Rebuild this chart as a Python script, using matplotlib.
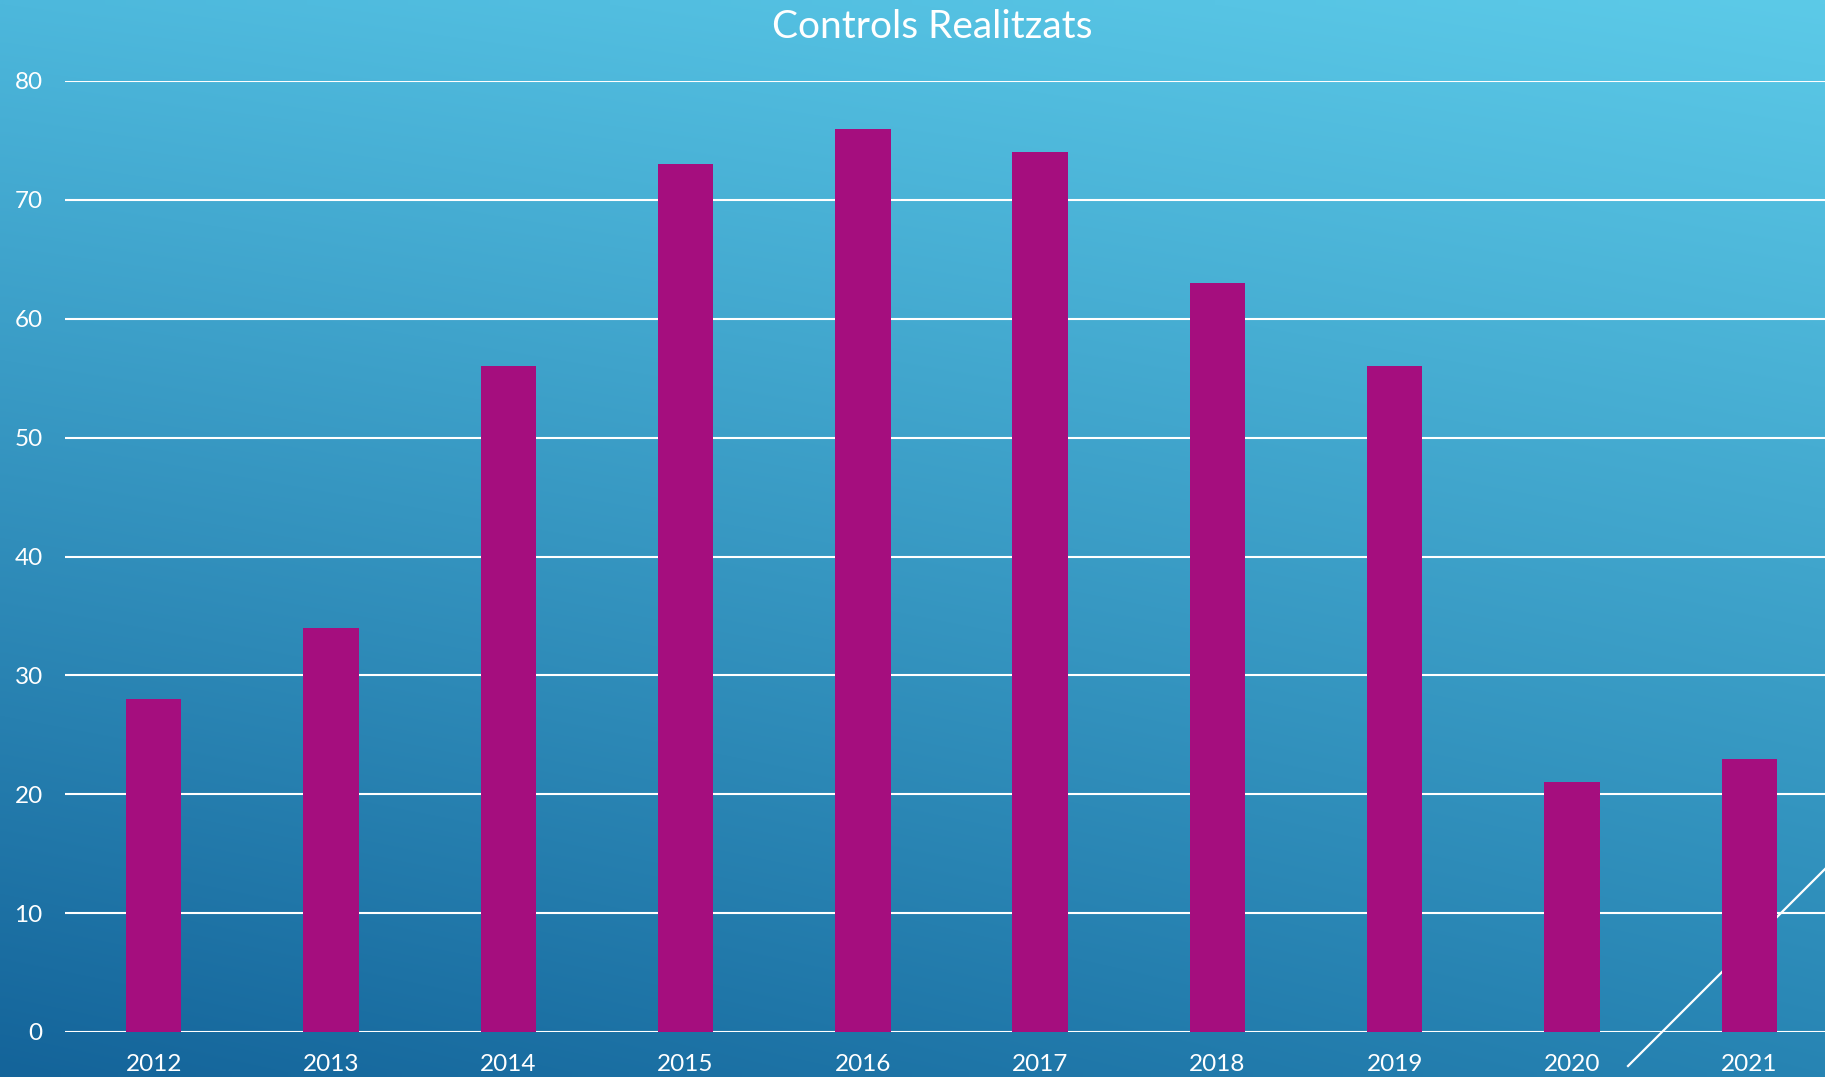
import numpy as np
import matplotlib
matplotlib.use("Agg")
import matplotlib.pyplot as plt
from matplotlib.colors import to_rgb
from matplotlib.lines import Line2D

years = ["2012", "2013", "2014", "2015", "2016", "2017", "2018", "2019", "2020", "2021"]
controls = [28, 34, 56, 73, 76, 74, 63, 56, 21, 23]
yticks = [0, 10, 20, 30, 40, 50, 60, 70, 80]
title = "Controls Realitzats"

W, H, DPI = 1825, 1077, 100
plt.rcParams['font.family'] = ['Lato', 'DejaVu Sans']
fig = plt.figure(figsize=(W / DPI, H / DPI), dpi=DPI)

# background gradient (bilinear between corners)
tl, tr = np.array(to_rgb("#4db8dc")), np.array(to_rgb("#5ccae8"))
bl, br = np.array(to_rgb("#14649a")), np.array(to_rgb("#2784b3"))
gx = np.linspace(0, 1, 200)[None, :, None]
gy = np.linspace(0, 1, 120)[:, None, None]  # 0 top, 1 bottom
top = tl * (1 - gx) + tr * gx
bot = bl * (1 - gx) + br * gx
img = top * (1 - gy) + bot * gy
bg = fig.add_axes([0, 0, 1, 1], zorder=-10)
bg.imshow(img, aspect="auto", extent=[0, 1, 0, 1], interpolation="bilinear")
bg.axis("off")

# decorative diagonal line
fig.add_artist(Line2D([1628 / W, 1.0], [1 - 1066 / H, 1 - 869 / H],
                      color="white", lw=1.6, zorder=-5))

left = 65 / W
bottom = 1 - 1032 / H
top_y = 1 - 81 / H
width = 1773 / W
ax = fig.add_axes([left, bottom, width, top_y - bottom], zorder=1)
ax.patch.set_alpha(0)
x = np.arange(len(years))
ax.bar(x, controls, width=0.312, color="#a50e7e", zorder=3)
ax.set_xlim(-0.5, len(years) - 0.5)
ax.set_ylim(0, 80)
ax.set_yticks(yticks)
ax.set_xticks(x)
ax.set_xticklabels(years)
ax.yaxis.grid(True, color="white", lw=1.5, zorder=1)
ax.set_axisbelow(True)
for s in ax.spines.values():
    s.set_visible(False)
ax.tick_params(axis="both", length=0, colors="white", labelsize=17.5)
ax.tick_params(axis="y", pad=16)
ax.tick_params(axis="x", pad=16)

fig.text(932 / W, 1 - 27 / H, title, color="white", fontsize=28,
         ha="center", va="center")

fig.savefig("out.png", dpi=DPI)
